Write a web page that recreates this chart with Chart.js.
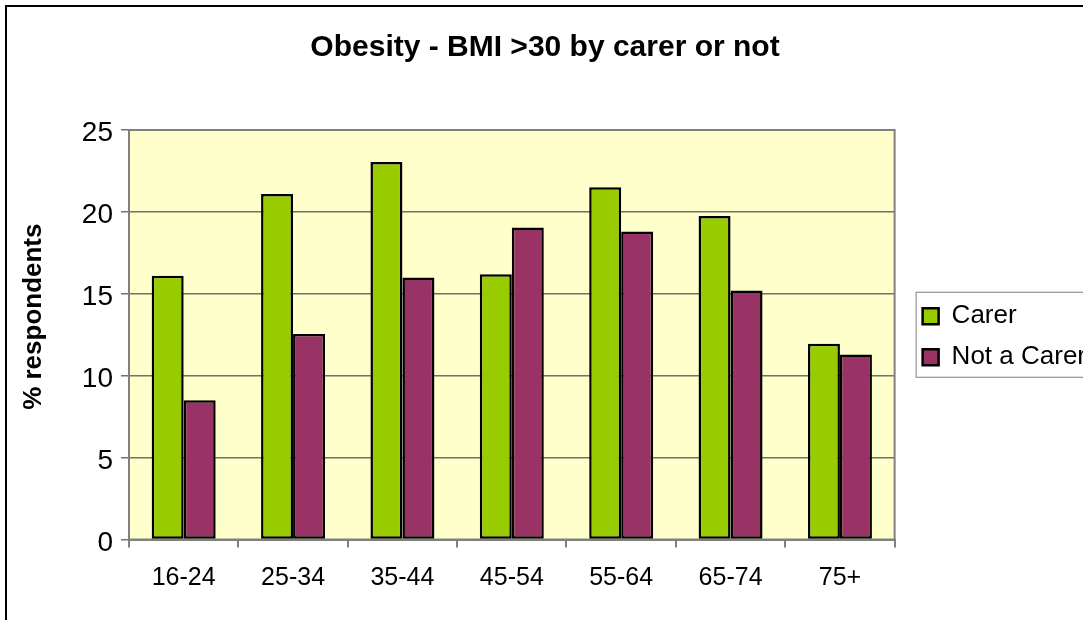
<!DOCTYPE html>
<html>
<head>
<meta charset="utf-8">
<title>Obesity - BMI >30 by carer or not</title>
<script src="https://cdn.jsdelivr.net/npm/chart.js@4.4.1/dist/chart.umd.min.js"></script>
<style>
  html, body { margin: 0; padding: 0; background: #fff; overflow: hidden; width: 1083px; height: 620px; }
  .frame { position: absolute; left: 5px; top: 5px; width: 1100px; height: 620px; border: 2px solid #000; }
</style>
</head>
<body>
<div class="frame"><canvas id="chart"></canvas></div>
<script>
const ageGroups = ['16-24', '25-34', '35-44', '45-54', '55-64', '65-74', '75+'];
const carer = [16.1, 21.1, 23.05, 16.2, 21.5, 19.75, 11.95];
const notCarer = [8.5, 12.55, 16.0, 19.05, 18.8, 15.2, 11.3];
const yTicks = [0, 5, 10, 15, 20, 25];

const font = 'Arial, "Liberation Sans", sans-serif';

// yellow plot area with grey frame, boxed legend nudged off the plot
const plotFrame = {
    id: 'plotFrame',
    beforeDraw(chart) {
        const {ctx, chartArea: a} = chart;
        ctx.save();
        ctx.fillStyle = '#ffffcc';
        ctx.fillRect(a.left, a.top, a.right - a.left, a.bottom - a.top);
        ctx.restore();
    },
    beforeDatasetsDraw(chart) {
        const {ctx, chartArea: a} = chart;
        ctx.save();
        ctx.strokeStyle = '#808080';
        ctx.lineWidth = 2;
        ctx.strokeRect(a.left, a.top, a.right - a.left, a.bottom - a.top);
        ctx.restore();
    },
    afterLayout(chart) {
        const lg = chart.legend;
        lg.left += 13; lg.right += 13;
        lg.top += 2; lg.bottom += 2;
    },
    afterDraw(chart) {
        const {ctx, chartArea: a, legend: lg} = chart;
        const mid = (a.top + a.bottom) / 2;
        ctx.save();
        ctx.strokeStyle = '#808080';
        ctx.lineWidth = 1;
        ctx.strokeRect(lg.left + 8.5, mid - 42.5, chart.width, 85);
        ctx.restore();
    }
};

new Chart(document.querySelector('#chart'), {
    type: 'bar',
    data: {
        labels: ageGroups,
        datasets: [
            {
                label: 'Carer',
                data: carer,
                backgroundColor: '#99cc00',
                borderColor: '#000',
                borderWidth: 2.5,
                borderSkipped: false
            },
            {
                label: 'Not a Carer',
                data: notCarer,
                backgroundColor: '#993366',
                borderColor: '#000',
                borderWidth: 2.5,
                borderSkipped: false
            }
        ]
    },
    options: {
        responsive: true,
        maintainAspectRatio: false,
        animation: false,
        datasets: { bar: { categoryPercentage: 0.585, barPercentage: 1 } },
        layout: { padding: { left: 0, right: 24, top: 0, bottom: 0 } },
        plugins: {
            tooltip: { enabled: false },
            title: {
                display: true,
                text: 'Obesity - BMI >30 by carer or not',
                color: '#000',
                font: { family: font, size: 30, weight: 'bold' },
                padding: { top: 23, bottom: 64 }
            },
            legend: {
                position: 'right',
                fullSize: false,
                labels: {
                    color: '#000',
                    font: { family: font, size: 26 },
                    boxWidth: 16,
                    boxHeight: 16,
                    padding: 15
                }
            }
        },
        scales: {
            x: {
                grid: { drawOnChartArea: false, color: '#808080', lineWidth: 2, tickLength: 8 },
                border: { color: '#808080', width: 2 },
                ticks: { color: '#000', font: { family: font, size: 25 }, padding: 16 },
                afterFit(scale) { scale.height = 87.5; }
            },
            y: {
                min: 0,
                max: 25,
                afterBuildTicks(scale) { scale.ticks = yTicks.map(v => ({value: v})); },
                grid: { color: '#707070', lineWidth: 1.5, tickLength: 8 },
                border: { color: '#808080', width: 2 },
                ticks: { color: '#000', font: { family: font, size: 28 }, padding: 8, labelOffset: 3.5 },
                title: {
                    display: true,
                    // leading spaces lift the label the way the original sits above the plot centre
                    text: '     % respondents',
                    color: '#000',
                    font: { family: font, size: 26, weight: 'bold' },
                    padding: { top: 11, bottom: 0 }
                },
                afterFit(scale) { scale.width = 122; }
            }
        }
    },
    plugins: [plotFrame]
});
</script>
</body>
</html>
